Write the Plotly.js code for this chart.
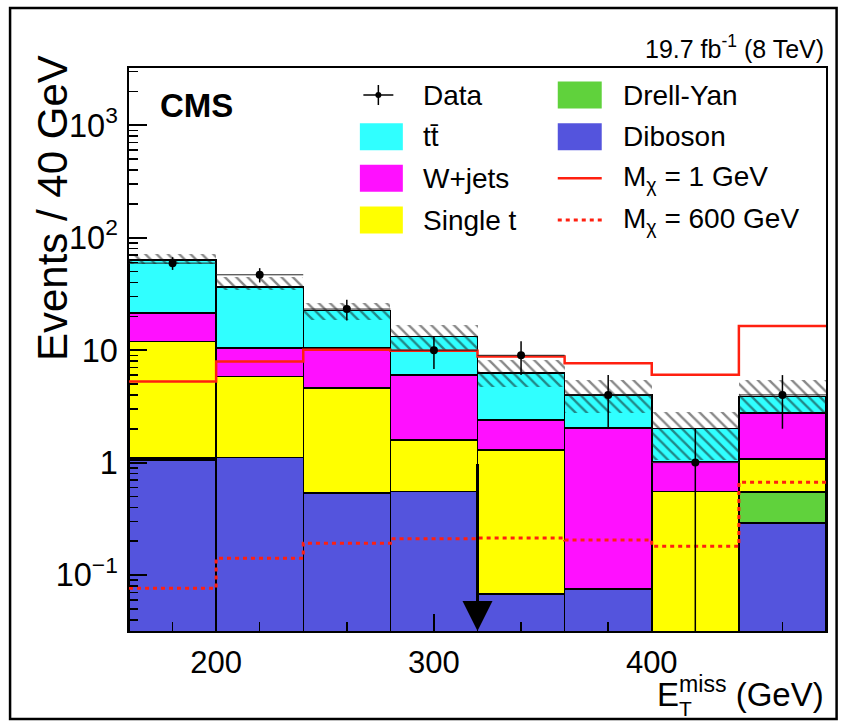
<!DOCTYPE html>
<html><head><meta charset="utf-8">
<script src="https://cdn.plot.ly/plotly-3.0.1.min.js"></script>
<style>html,body{margin:0;padding:0;background:#fff}#chart{width:843px;height:725px}</style>
</head><body><div id="chart"></div>
<script>
// ---- data ----
const binCenters = [180, 220, 260, 300, 340, 380, 420, 460];
const binEdges   = [160, 200, 240, 280, 320, 360, 400, 440, 480];
const diboson   = [1.05, 1.11, 0.534, 0.552, 0.068, 0.075, 0.02, 0.289];
const drellYan  = [0.05, 0, 0, 0, 0, 0, 0, 0.256];
const singleTop = [10.83, 4.71, 4.06, 1.04, 1.23, 0, 0.532, 0.534];
const wJets     = [9.4, 4.6, 5.83, 4.44, 1.10, 1.95, 0.468, 1.67];
const ttbar     = [42.3, 25.9, 12.1, 7.2, 3.84, 1.98, 1.0, 1.12];
const uncLow    = [58.6, 34.4, 18.6, 10.1, 4.72, 2.77, 1.06, 2.77];
const uncHigh   = [71.1, 44.9, 26.5, 16.8, 8.2, 5.44, 2.84, 5.44];
const dataCounts  = [59.4, 46.8, 23.2, 10, 9, 4, 1, 4];
const dataErrUp   = [7.7, 6.8, 4.8, 3.2, 3.0, 2.0, 1.0, 2.0];
const dataErrDown = [7.7, 6.8, 4.8, 3.2, 3.0, 2.0, 0.99, 2.0];
const signalM1   = [5.26, 7.92, 10.06, 9.9, 8.77, 7.66, 6.03, 16.4];
const signalM600 = [0.0763, 0.141, 0.192, 0.210, 0.214, 0.205, 0.180, 0.669];
const cutValue = 320;
const cutArrowFrom = 1.0;
const yMin = 0.0318, yMax = 3230;

// ---- styles ----
const FONT = 'Liberation Sans, Arial, Helvetica, sans-serif';
const colors = {ttbar:'#30ffff', wjets:'#ff10ff', singlet:'#ffff00', dy:'#60d23c', diboson:'#5454dd', red:'#ff2010'};
const outline = {color:'black', width:1.5};

function stackBar(name, vals, color){
  return {type:'bar', name:name, x:binCenters, y:vals, width:40,
    marker:{color:color, line:outline}, showlegend:false, hoverinfo:'skip'};
}
function stepY(v){ return v.concat([v[v.length-1]]); }

const traces = [
  stackBar('Diboson', diboson, colors.diboson),
  stackBar('Drell-Yan', drellYan, colors.dy),
  stackBar('Single t', singleTop, colors.singlet),
  stackBar('W+jets', wJets, colors.wjets),
  stackBar('tt', ttbar, colors.ttbar),
  {type:'bar', name:'uncertainty', x:binCenters, base:uncLow,
   y:uncHigh.map((h,i)=>h-uncLow[i]), width:40,
   marker:{color:'rgba(0,0,0,0)', line:{width:0},
     pattern:{shape:'\\', fgcolor:'#111', size:8, solidity:0.3, fillmode:'overlay'}},
   showlegend:false, hoverinfo:'skip'},
  {type:'scatter', mode:'lines', name:'Mχ = 1 GeV', x:binEdges, y:stepY(signalM1),
   line:{shape:'hv', color:colors.red, width:2.5}, showlegend:false},
  {type:'scatter', mode:'lines', name:'Mχ = 600 GeV', x:binEdges, y:stepY(signalM600),
   line:{shape:'hv', color:colors.red, width:3, dash:'4px,4px'}, showlegend:false},
  {type:'scatter', mode:'markers', name:'Data', x:binCenters, y:dataCounts,
   marker:{color:'black', size:8},
   error_y:{type:'data', symmetric:false, array:dataErrUp, arrayminus:dataErrDown, color:'black', thickness:1.5, width:0},
   error_x:{type:'constant', value:20, color:'#222', thickness:1, width:0},
   showlegend:false}
];

// ---- pixel helpers for layout placement (plot area l=129, r=826, t=68, b=631) ----
const PL = 129, PW = 697.4, PB = 631, PH = 563;
const px = v => (v - PL) / PW;
const py = v => (PB - v) / PH;

const shapes = [];
const annotations = [];

// outer frame (drawn below so it never covers the axes)
shapes.push({type:'rect', xref:'paper', yref:'paper', layer:'below', x0:px(10), x1:px(837), y0:py(719), y1:py(8),
  line:{color:'black', width:2.5}, fillcolor:'rgba(0,0,0,0)'});

// custom legend (two columns as in the reference)
const legendRows = [95, 136.7, 178.3, 220];
const col1 = [
  {label:'Data', kind:'data'},
  {label:'tt\u0304', kind:'box', color:colors.ttbar},
  {label:'W+jets', kind:'box', color:colors.wjets},
  {label:'Single t', kind:'box', color:colors.singlet}
];
const col2 = [
  {label:'Drell-Yan', kind:'box', color:colors.dy},
  {label:'Diboson', kind:'box', color:colors.diboson},
  {label:'M<sub>χ</sub> = 1 GeV', kind:'line', dash:'solid'},
  {label:'M<sub>χ</sub> = 600 GeV', kind:'line', dash:'4px,4px'}
];
function addLegendColumn(items, boxX0, boxX1, textX){
  items.forEach((it, i) => {
    const yc = legendRows[i];
    if(it.kind === 'box'){
      shapes.push({type:'rect', xref:'paper', yref:'paper', x0:px(boxX0), x1:px(boxX1),
        y0:py(yc+13.5), y1:py(yc-13.5), fillcolor:it.color, line:{width:0}});
    } else if(it.kind === 'line'){
      shapes.push({type:'line', xref:'paper', yref:'paper', x0:px(boxX0), x1:px(boxX1),
        y0:py(yc), y1:py(yc), line:{color:colors.red, width:it.dash==='solid'?2.5:3, dash:it.dash}});
    } else {
      const cx = (boxX0 + boxX1) / 2 - 3;
      shapes.push({type:'line', xref:'paper', yref:'paper', x0:px(cx-15), x1:px(cx+15), y0:py(yc), y1:py(yc), line:{color:'black', width:1.5}});
      shapes.push({type:'line', xref:'paper', yref:'paper', x0:px(cx), x1:px(cx), y0:py(yc-10), y1:py(yc+10), line:{color:'black', width:1.5}});
      shapes.push({type:'circle', xref:'paper', yref:'paper', x0:px(cx-3), x1:px(cx+3), y0:py(yc+3), y1:py(yc-3), fillcolor:'black', line:{width:0}});
    }
    annotations.push({xref:'paper', yref:'paper', x:px(textX), y:py(yc), xanchor:'left', yanchor:'middle',
      text:it.label, showarrow:false, font:{family:FONT, size:28, color:'black'}});
  });
}
addLegendColumn(col1, 360, 403, 421);
addLegendColumn(col2, 558, 602, 621);

// texts
annotations.push({xref:'paper', yref:'paper', x:1, y:py(47), xanchor:'right', yanchor:'middle',
  text:'19.7 fb<sup>-1</sup> (8 TeV)', showarrow:false, font:{family:FONT, size:25, color:'black'}});
annotations.push({xref:'paper', yref:'paper', x:px(158), y:py(105), xanchor:'left', yanchor:'middle',
  text:'<b>CMS</b>', showarrow:false, font:{family:FONT, size:33, color:'black'}});
annotations.push({xref:'paper', yref:'paper', x:px(52), y:py(208), xanchor:'center', yanchor:'middle',
  text:'Events / 40 GeV', textangle:-90, showarrow:false, font:{family:FONT, size:42, color:'black'}});
annotations.push({xref:'paper', yref:'paper', x:1, y:py(692), xanchor:'right', yanchor:'middle',
  text:'E<sup>miss</sup> (GeV)', showarrow:false, font:{family:FONT, size:33, color:'black'}});
annotations.push({xref:'paper', yref:'paper', x:px(686), y:py(708), xanchor:'center', yanchor:'middle',
  text:'T', showarrow:false, font:{family:FONT, size:21, color:'black'}});

// cut arrow
annotations.push({xref:'x', yref:'y', x:cutValue, y:Math.log10(yMin), axref:'x', ayref:'y',
  ax:cutValue, ay:Math.log10(cutArrowFrom), text:'', showarrow:true, arrowhead:2,
  arrowwidth:3, arrowsize:2.0, arrowcolor:'black', standoff:0});

const axisCommon = {showline:true, linewidth:2, linecolor:'black', mirror:true, showgrid:false, zeroline:false,
  ticks:'inside', tickwidth:2, tickcolor:'black', layer:'above traces'};

const layout = {
  width:843, height:725,
  margin:{l:PL, r:843-826, t:68, b:725-PB},
  paper_bgcolor:'white', plot_bgcolor:'white',
  barmode:'stack', bargap:0,
  showlegend:false,
  font:{family:FONT, color:'black'},
  xaxis:Object.assign({}, axisCommon, {
    range:[160, 480], tick0:0, dtick:100, ticklen:17,
    minor:{dtick:20, ticks:'inside', ticklen:9, tickwidth:1.5, tickcolor:'black', showgrid:false},
    tickfont:{family:FONT, size:31, color:'black'}, ticklabelstandoff:3
  }),
  yaxis:Object.assign({}, axisCommon, {
    type:'log', range:[Math.log10(yMin), Math.log10(yMax)], dtick:1, exponentformat:'power', ticklen:18,
    minor:{dtick:'D1', ticks:'inside', ticklen:9, tickwidth:1.5, tickcolor:'black', showgrid:false},
    tickfont:{family:FONT, size:26, color:'black'}, ticklabelstandoff:4
  }),
  shapes:shapes,
  annotations:annotations
};

Plotly.newPlot('chart', traces, layout, {displayModeBar:false, staticPlot:true});
</script>
</body></html>
